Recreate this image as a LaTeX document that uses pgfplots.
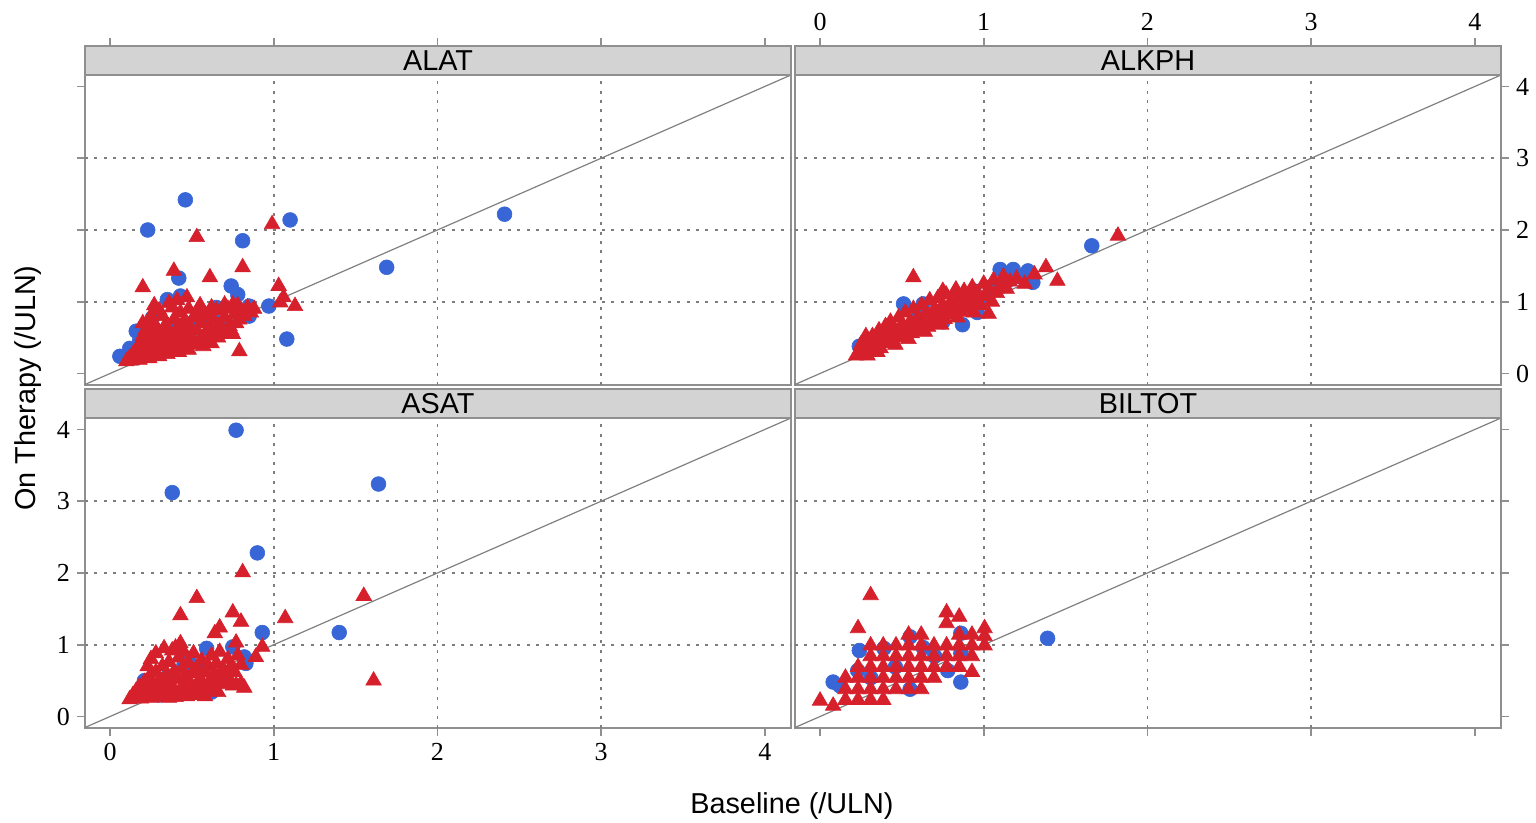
\documentclass[border=0pt]{standalone}
\usepackage{pgfplots}
\pgfplotsset{compat=1.18}
\usepackage{fontspec}
\setmainfont{Liberation Sans}
\newfontfamily\tickfont{Liberation Serif}
\definecolor{framegray}{RGB}{143,143,143}
\definecolor{headergray}{RGB}{211,211,211}
\definecolor{gridgray}{RGB}{125,125,125}
\definecolor{ptblue}{RGB}{56,102,214}
\definecolor{ptred}{RGB}{214,32,44}
\pgfplotsset{
  base/.style={scale only axis, width=353pt, xmin=-0.153, xmax=4.16,
    axis line style={draw=framegray, line width=0.9pt},
    tick style={draw=framegray, line width=0.9pt},
    tick align=outside, major tick length=4pt,
    /pgf/number format/assume math mode=true,
    tick label style={font=\tickfont\fontsize{13}{14}\selectfont},
  },
  panel/.style={base, height=155pt, ymin=-0.16, ymax=4.16,
    xtick={0,...,4}, ytick={0,...,4},
    extra x ticks={1,2,3}, extra y ticks={1,2,3},
    extra x tick labels={}, extra y tick labels={},
    extra tick style={grid=major, major tick length=0pt},
    major grid style={draw=gridgray, line width=0.8pt, dash pattern=on 1.5pt off 3.2pt},
  },
  header/.style={base, height=14.5pt, ymin=0, ymax=1, ytick=\empty,
     axis background/.style={fill=headergray}},
  bluemk/.style={only marks, mark=*, mark size=3.7pt, mark options={draw=ptblue, fill=ptblue, line width=0.3pt}},
  redmk/.style={only marks, mark=triangle*, mark size=4.5pt, mark options={draw=ptred, fill=ptred, line width=0.3pt}},
  diag/.style={draw=gray, line width=0.6pt, no marks},
}
\newcommand{\ttl}{\fontsize{14.4}{15}\selectfont}
\begin{document}
\begin{tikzpicture}
\path[use as bounding box] (0,0) rectangle (768pt,411.5pt);
% ---------- ALAT (top left)
\begin{axis}[panel, at={(42.5pt,219pt)}, anchor=south west,
  xtick=\empty, ytick pos=left, yticklabels={}]
\addplot[diag] coordinates {(-0.3,-0.3) (4.3,4.3)};
\addplot[bluemk] coordinates {
(0.46,2.42)(0.23,2.00)(1.10,2.14)(0.81,1.85)(2.41,2.22)(1.69,1.48)(1.08,0.48)(0.42,1.33)
(0.74,1.22)(0.78,1.10)(0.85,0.94)(0.97,0.94)(0.28,0.85)(0.35,1.03)(0.43,1.08)(0.16,0.59)
(0.06,0.24)(0.65,0.92)(0.85,0.80)(0.12,0.35)(0.18,0.45)(0.30,0.55)(0.50,0.70)(0.62,0.80)
(0.40,0.62)(0.26,0.78)(0.16,0.22)(0.55,0.85)(0.70,0.72)};
\addplot[redmk] coordinates {
(0.99,2.08)(0.53,1.90)(0.39,1.43)(0.61,1.34)(0.81,1.48)(0.20,1.20)(1.03,1.22)(1.06,1.06)
(1.13,0.94)(1.04,0.99)(0.79,0.31)(0.75,0.55)(0.47,1.06)(0.75,0.96)
(0.10,0.17)(0.12,0.22)(0.13,0.18)(0.14,0.27)(0.15,0.20)(0.16,0.33)(0.17,0.24)(0.18,0.19)
(0.18,0.40)(0.19,0.29)(0.20,0.22)(0.20,0.52)(0.21,0.35)(0.22,0.26)(0.22,0.62)(0.23,0.45)
(0.24,0.30)(0.24,0.21)(0.25,0.55)(0.26,0.38)(0.26,0.72)(0.27,0.27)(0.28,0.48)(0.28,0.65)
(0.29,0.33)(0.30,0.58)(0.30,0.24)(0.31,0.42)(0.32,0.80)(0.32,0.30)(0.33,0.52)(0.34,0.68)
(0.35,0.36)(0.35,0.27)(0.36,0.60)(0.37,0.45)(0.38,0.92)(0.38,0.32)(0.39,0.75)(0.40,0.55)
(0.41,0.40)(0.42,0.66)(0.42,0.30)(0.43,0.85)(0.44,0.48)(0.45,0.36)(0.45,0.72)(0.46,0.58)
(0.47,0.42)(0.48,0.90)(0.48,0.33)(0.49,0.65)(0.50,0.50)(0.51,0.78)(0.52,0.40)(0.53,0.60)
(0.54,0.86)(0.55,0.46)(0.56,0.70)(0.57,0.38)(0.58,0.55)(0.59,0.80)(0.60,0.48)(0.61,0.64)
(0.62,0.42)(0.63,0.75)(0.64,0.56)(0.65,0.88)(0.66,0.50)(0.67,0.68)(0.68,0.60)(0.70,0.78)
(0.71,0.55)(0.72,0.90)(0.73,0.66)(0.74,0.60)(0.76,0.82)(0.77,0.70)(0.78,0.95)(0.79,0.75)
(0.80,0.88)(0.82,0.80)(0.84,0.92)(0.86,0.85)(0.88,0.90)(0.36,0.98)(0.41,1.02)(0.30,0.88)
(0.27,0.95)(0.55,0.95)(0.62,0.92)(0.70,0.96)(0.25,0.80)(0.20,0.70)};
\end{axis}
\begin{axis}[header, at={(42.5pt,374pt)}, anchor=south west,
  xtick={0,...,4}, xtick pos=right, xticklabels={}]
\node[font=\ttl] at (rel axis cs:0.5,0.5) {ALAT};
\end{axis}
% ---------- ALKPH (top right)
\begin{axis}[panel, at={(397.5pt,219pt)}, anchor=south west,
  xtick=\empty, ytick pos=right, yticklabel pos=right]
\addplot[diag] coordinates {(-0.3,-0.3) (4.3,4.3)};
\addplot[bluemk] coordinates {
(1.66,1.78)(1.10,1.45)(1.18,1.45)(1.27,1.43)(1.30,1.27)(0.51,0.97)(0.94,1.15)(0.87,0.68)
(0.24,0.38)(1.04,1.20)(0.63,0.97)(0.96,0.85)(0.28,0.45)(0.40,0.55)(0.55,0.65)(0.70,0.80)
(0.85,0.95)(0.98,1.05)(1.15,1.30)(1.22,1.35)(0.45,0.52)(0.75,0.72)(0.60,0.78)};
\addplot[redmk] coordinates {
(1.82,1.92)(0.57,1.34)(1.38,1.48)(1.45,1.29)(1.31,1.38)(0.28,0.52)(1.03,0.83)(0.75,1.15)(0.83,1.17)
(0.22,0.25)(0.24,0.30)(0.25,0.40)(0.27,0.28)(0.28,0.35)(0.30,0.45)(0.31,0.32)(0.32,0.52)
(0.33,0.38)(0.35,0.42)(0.36,0.60)(0.37,0.35)(0.38,0.50)(0.40,0.66)(0.40,0.42)(0.42,0.55)
(0.43,0.72)(0.44,0.46)(0.45,0.62)(0.47,0.50)(0.48,0.78)(0.49,0.58)(0.50,0.68)(0.51,0.52)
(0.52,0.85)(0.53,0.62)(0.55,0.72)(0.56,0.56)(0.57,0.90)(0.58,0.66)(0.60,0.78)(0.61,0.60)
(0.62,0.95)(0.63,0.70)(0.65,0.84)(0.66,0.65)(0.67,1.02)(0.68,0.76)(0.70,0.90)(0.71,0.70)
(0.72,1.05)(0.73,0.82)(0.75,0.95)(0.76,0.76)(0.77,1.10)(0.78,0.88)(0.80,1.00)(0.81,0.82)
(0.82,1.12)(0.83,0.92)(0.85,1.05)(0.86,0.86)(0.88,1.15)(0.89,0.97)(0.90,1.08)(0.92,0.90)
(0.93,1.20)(0.95,1.02)(0.96,1.12)(0.98,0.95)(1.00,1.25)(1.01,1.08)(1.03,1.18)(1.05,1.00)
(1.06,1.30)(1.08,1.12)(1.10,1.22)(1.12,1.35)(1.14,1.18)(1.16,1.28)(1.20,1.32)(1.25,1.25)
(0.46,0.40)(0.54,0.48)(0.64,0.58)(0.74,0.68)(0.84,0.78)(0.94,0.85)(0.35,0.30)(0.29,0.25)};
\end{axis}
\begin{axis}[header, at={(397.5pt,374pt)}, anchor=south west,
  xtick={0,...,4}, xtick pos=right, xticklabel pos=right]
\node[font=\ttl] at (rel axis cs:0.5,0.5) {ALKPH};
\end{axis}
% ---------- ASAT (bottom left)
\begin{axis}[panel, at={(42.5pt,47.5pt)}, anchor=south west,
  xtick pos=left, ytick pos=left]
\addplot[diag] coordinates {(-0.3,-0.3) (4.3,4.3)};
\addplot[bluemk] coordinates {
(0.77,3.99)(0.38,3.12)(1.64,3.24)(0.90,2.28)(0.93,1.17)(1.40,1.17)(0.62,0.34)(0.59,0.95)
(0.75,0.97)(0.82,0.83)(0.83,0.74)(0.48,0.81)(0.21,0.50)(0.25,0.40)(0.35,0.55)(0.45,0.70)
(0.55,0.62)(0.68,0.55)(0.30,0.30)};
\addplot[redmk] coordinates {
(0.81,2.01)(0.53,1.65)(0.43,1.41)(0.75,1.45)(0.80,1.32)(0.67,1.24)(0.64,1.16)(1.07,1.37)
(1.55,1.68)(1.61,0.50)(0.93,0.97)(0.77,1.03)(0.89,0.83)(0.80,0.46)(0.75,0.43)(0.43,1.02)(0.38,0.92)
(0.12,0.24)(0.14,0.30)(0.15,0.26)(0.16,0.36)(0.17,0.28)(0.18,0.42)(0.19,0.25)(0.20,0.33)
(0.21,0.48)(0.22,0.28)(0.23,0.38)(0.24,0.55)(0.25,0.26)(0.26,0.44)(0.27,0.32)(0.28,0.62)
(0.29,0.36)(0.30,0.50)(0.31,0.27)(0.32,0.70)(0.33,0.40)(0.34,0.56)(0.35,0.30)(0.36,0.76)
(0.37,0.46)(0.38,0.34)(0.39,0.62)(0.40,0.27)(0.41,0.52)(0.42,0.82)(0.43,0.38)(0.44,0.66)
(0.45,0.30)(0.46,0.56)(0.47,0.44)(0.48,0.74)(0.49,0.34)(0.50,0.60)(0.51,0.88)(0.52,0.40)
(0.53,0.68)(0.54,0.30)(0.55,0.52)(0.56,0.78)(0.57,0.44)(0.58,0.62)(0.59,0.36)(0.60,0.70)
(0.61,0.50)(0.62,0.85)(0.63,0.42)(0.64,0.60)(0.65,0.74)(0.66,0.52)(0.67,0.90)(0.68,0.45)
(0.69,0.66)(0.70,0.58)(0.72,0.80)(0.73,0.50)(0.74,0.70)(0.76,0.62)(0.78,0.85)(0.80,0.72)
(0.82,0.40)(0.77,0.44)(0.28,0.88)(0.33,0.95)(0.40,0.96)(0.45,0.90)(0.23,0.70)(0.25,0.80)
(0.36,0.26)(0.47,0.28)(0.58,0.28)(0.66,0.34)(0.50,0.42)};
\end{axis}
\begin{axis}[header, at={(42.5pt,202.5pt)}, anchor=south west, xtick=\empty]
\node[font=\ttl] at (rel axis cs:0.5,0.5) {ASAT};
\end{axis}
% ---------- BILTOT (bottom right)
\begin{axis}[panel, at={(397.5pt,47.5pt)}, anchor=south west,
  xtick pos=left, xticklabels={}, ytick pos=right, yticklabels={}]
\addplot[diag] coordinates {(-0.3,-0.3) (4.3,4.3)};
\addplot[bluemk] coordinates {
(0.08,0.48)(0.24,0.92)(0.55,1.11)(0.39,0.95)(0.86,0.48)(1.39,1.09)(0.86,1.16)(0.86,0.88)
(0.78,0.64)(0.23,0.64)(0.12,0.43)(0.63,0.96)(0.31,0.54)(0.46,0.69)(0.70,0.84)(0.55,0.38)};
\addplot[redmk] coordinates {
(0.00,0.22)(0.08,0.15)
(0.155,0.23)(0.155,0.38)(0.155,0.54)
(0.232,0.23)(0.232,0.38)(0.232,0.54)(0.232,0.69)(0.232,1.23)
(0.309,0.23)(0.309,0.38)(0.309,0.54)(0.309,0.69)(0.309,0.84)(0.309,0.99)(0.309,1.69)
(0.386,0.23)(0.386,0.38)(0.386,0.54)(0.386,0.69)(0.386,0.84)(0.386,0.99)
(0.464,0.38)(0.464,0.54)(0.464,0.69)(0.464,0.84)(0.464,0.99)
(0.541,0.38)(0.541,0.54)(0.541,0.69)(0.541,0.84)(0.541,0.99)(0.541,1.14)
(0.618,0.38)(0.618,0.54)(0.618,0.69)(0.618,0.84)(0.618,0.99)(0.618,1.14)
(0.696,0.54)(0.696,0.69)(0.696,0.84)(0.696,0.99)
(0.773,0.69)(0.773,0.84)(0.773,0.99)(0.773,1.30)(0.773,1.45)
(0.850,0.69)(0.850,0.84)(0.850,0.99)(0.850,1.14)(0.850,1.39)
(0.928,0.84)(0.928,0.99)(0.928,1.14)(0.928,0.62)
(1.005,0.99)(1.005,1.12)(1.005,1.23)};
\end{axis}
\begin{axis}[header, at={(397.5pt,202.5pt)}, anchor=south west, xtick=\empty]
\node[font=\ttl] at (rel axis cs:0.5,0.5) {BILTOT};
\end{axis}
\node[rotate=90, font=\ttl] at (14pt,217.5pt) {On Therapy (/ULN)};
\node[font=\ttl] at (396pt,8.5pt) {Baseline (/ULN)};
\end{tikzpicture}
\end{document}
